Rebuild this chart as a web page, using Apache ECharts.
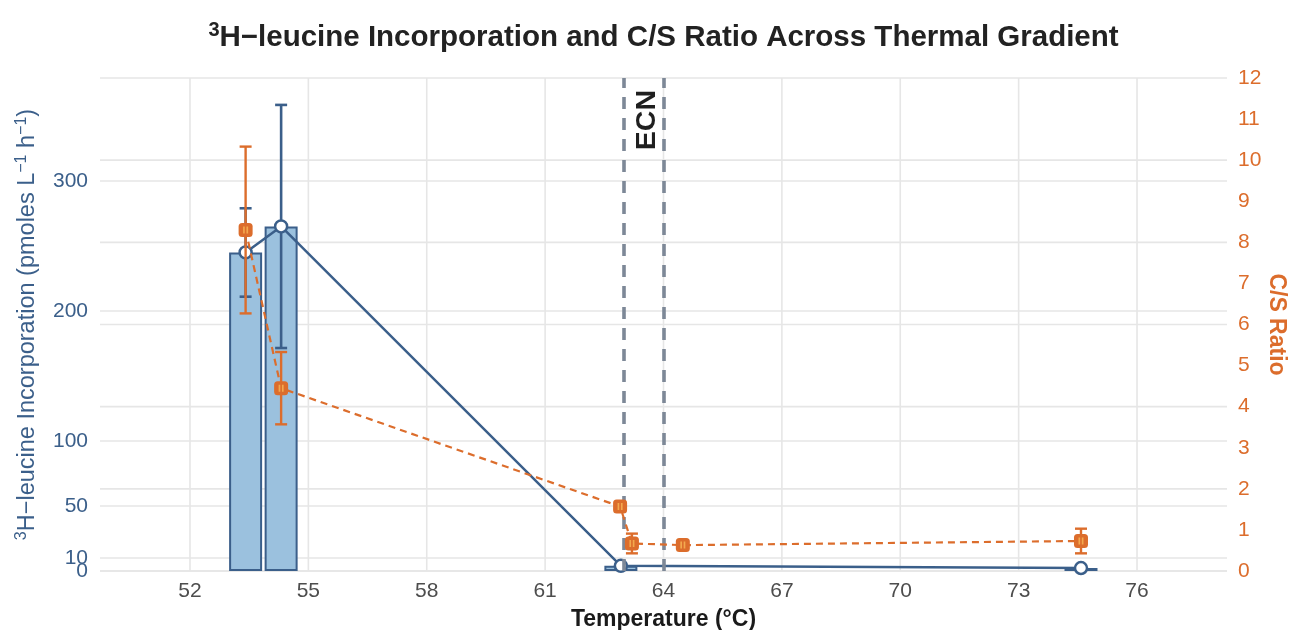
<!DOCTYPE html>
<html>
<head>
<meta charset="utf-8">
<script src="https://cdn.jsdelivr.net/npm/echarts@6/dist/echarts.min.js"></script>
<style>html,body{margin:0;padding:0;background:#fff;overflow:hidden}#c{width:1293px;height:630px}</style>
</head>
<body>
<div id="c"></div>
<script>
// ---- data ----
const leuTemps = [53.41, 54.31, 62.92, 74.58];
const leucine = [245, 265, 4, 2.3];
const leucineSD = [34, 93.5, 0, 0];
const csTemps = [53.41, 54.31, 62.9, 63.2, 64.49, 74.58];
const csRatio = [8.3, 4.45, 1.57, 0.67, 0.63, 0.73];
const csSD = [2.03, 0.88, 0, 0.24, 0, 0.3];
const ecnBounds = [63, 64];
const xTicks = [52, 55, 58, 61, 64, 67, 70, 73, 76];
const leftTicks = [0, 10, 50, 100, 200, 300];
const rightGridTicks = [0, 2, 4, 6, 8, 10, 12];

const BLUE = '#3b5f8a', BAR = '#9bc1de', ORANGE = '#dc6d2c', GRIDC = '#e6e6e6';
const FONT = 'Liberation Sans, Arial, sans-serif';
const LEFT_MAX = 379.2;
const GRID = { left: 100, right: 66, top: 78, bottom: 59 };
const W = 1293;

const leuPairs = leuTemps.map((t, i) => [t, leucine[i]]);
const leuErr = leuTemps.map((t, i) => [t, leucine[i], leucineSD[i]]).filter(d => d[2] > 0);
const csPairs = csTemps.map((t, i) => [t, csRatio[i]]);
const csErr = csTemps.map((t, i) => [t, csRatio[i], csSD[i]]).filter(d => d[2] > 0);

function errRender(color, width) {
  return function (params, api) {
    const x = api.value(0), y = api.value(1), sd = api.value(2);
    const top = api.coord([x, y + sd]);
    const bot = api.coord([x, y - sd]);
    const hw = 6;
    const st = { stroke: color, lineWidth: width };
    return {
      type: 'group',
      children: [
        { type: 'line', shape: { x1: top[0], y1: top[1], x2: bot[0], y2: bot[1] }, style: st },
        { type: 'line', shape: { x1: top[0] - hw, y1: top[1], x2: top[0] + hw, y2: top[1] }, style: st },
        { type: 'line', shape: { x1: bot[0] - hw, y1: bot[1], x2: bot[0] + hw, y2: bot[1] }, style: st }
      ]
    };
  };
}
function hGrid(params, api) {
  const cs = params.coordSys;
  const y = api.coord([api.value(0), api.value(1)])[1];
  return { type: 'line', silent: true, shape: { x1: cs.x, y1: y, x2: cs.x + cs.width, y2: y }, style: { stroke: GRIDC, lineWidth: 1.6 } };
}
function vGrid(params, api) {
  const cs = params.coordSys;
  const x = api.coord([api.value(0), api.value(1)])[0];
  return { type: 'line', silent: true, shape: { x1: x, y1: cs.y, x2: x, y2: cs.y + cs.height }, style: { stroke: GRIDC, lineWidth: 1.6 } };
}

const leftLabelBase = { color: BLUE, fontSize: 21, margin: 12, fontFamily: FONT, hideOverlap: false };

const chart = echarts.init(document.getElementById('c'), null, { renderer: 'canvas' });
chart.setOption({
  animation: false,
  backgroundColor: '#fff',
  textStyle: { fontFamily: FONT },
  title: {
    text: '{sup|3}{t|H\u2212leucine Incorporation and C/S Ratio Across Thermal Gradient}',
    left: GRID.left + (W - GRID.left - GRID.right) / 2,
    textAlign: 'center',
    top: 20,
    padding: 0,
    textStyle: {
      rich: {
        t: { fontSize: 29.5, fontWeight: 'bold', color: '#222', fontFamily: FONT, lineHeight: 36 },
        sup: { fontSize: 20, fontWeight: 'bold', color: '#222', fontFamily: FONT, verticalAlign: 'top', lineHeight: 36 }
      }
    }
  },
  grid: Object.assign({ containLabel: false, outerBoundsMode: 'none' }, GRID),
  xAxis: {
    type: 'value', min: 49.72, max: 78.28,
    axisLine: { show: false }, axisTick: { show: false }, splitLine: { show: false },
    axisLabel: { customValues: xTicks, color: '#4d4d4d', fontSize: 21, margin: 10, fontFamily: FONT },
    name: 'Temperature (\u00B0C)', nameLocation: 'middle', nameGap: 37, nameMoveOverlap: false,
    nameTextStyle: { fontSize: 23, fontWeight: 'bold', color: '#1a1a1a', fontFamily: FONT }
  },
  yAxis: [
    {
      type: 'value', min: 0, max: LEFT_MAX, position: 'left',
      axisLine: { show: false }, axisTick: { show: false }, splitLine: { show: false },
      axisLabel: Object.assign({ customValues: leftTicks.slice(1) }, leftLabelBase),
      name: '{sup|3}{t|H\u2212leucine Incorporation (pmoles L}{sup|\u22121}{t| h}{sup|\u22121}{t|)}',
      nameLocation: 'middle', nameGap: 58, nameRotate: 90, nameMoveOverlap: false,
      nameTextStyle: {
        rich: {
          t: { fontSize: 23.5, color: BLUE, fontFamily: FONT, lineHeight: 28 },
          sup: { fontSize: 16, color: BLUE, fontFamily: FONT, verticalAlign: 'top', lineHeight: 28 }
        }
      }
    },
    {
      type: 'value', min: 0, max: 12, interval: 1, position: 'right',
      axisLine: { show: false }, axisTick: { show: false }, splitLine: { show: false },
      axisLabel: { color: ORANGE, fontSize: 21, margin: 11, fontFamily: FONT },
      name: 'C/S Ratio', nameLocation: 'middle', nameGap: 38, nameRotate: -90, nameMoveOverlap: false,
      nameTextStyle: { fontSize: 23, fontWeight: 'bold', color: ORANGE, fontFamily: FONT }
    },
    {
      type: 'value', min: 0, max: LEFT_MAX, position: 'left',
      axisLine: { show: false }, axisTick: { show: false }, splitLine: { show: false },
      axisLabel: Object.assign({ customValues: leftTicks.slice(0, 1) }, leftLabelBase)
    }
  ],
  series: [
    { name: 'gridX', type: 'custom', data: xTicks.map(v => [v, 0]), z: 0, silent: true, renderItem: vGrid },
    { name: 'gridL', type: 'custom', yAxisIndex: 0, data: leftTicks.map(v => [xTicks[0], v]), z: 0, silent: true, renderItem: hGrid },
    { name: 'gridR', type: 'custom', yAxisIndex: 1, data: rightGridTicks.map(v => [xTicks[0], v]), z: 0, silent: true, renderItem: hGrid },
    {
      name: 'ECN', type: 'line', yAxisIndex: 1, data: [], z: 1, silent: true,
      markLine: {
        silent: true, symbol: 'none', label: { show: false }, animation: false,
        lineStyle: { color: '#7d8897', width: 3.6, type: [12, 9] },
        data: ecnBounds.map(v => [{ coord: [v, 0] }, { coord: [v, 12] }])
      },
      markPoint: {
        silent: true, symbol: 'rect', symbolSize: 1, itemStyle: { color: 'rgba(0,0,0,0)' },
        label: { show: true, formatter: 'ECN', rotate: 90, position: 'inside', offset: [-1, 3], fontSize: 28.5, fontWeight: 'bold', color: '#1f1f1f', fontFamily: FONT },
        data: [{ coord: [(ecnBounds[0] + ecnBounds[1]) / 2, 11] }]
      }
    },
    {
      name: 'Leucine bars', type: 'bar', yAxisIndex: 0, data: leuPairs, barWidth: 33, z: 2,
      itemStyle: { color: BAR, borderColor: BLUE, borderWidth: 2 }
    },
    {
      name: 'Leucine err', type: 'custom', yAxisIndex: 0, data: leuErr, z: 3,
      renderItem: errRender(BLUE, 2.6)
    },
    {
      name: 'Leucine line', type: 'line', yAxisIndex: 0, data: leuPairs, z: 4,
      lineStyle: { color: BLUE, width: 2.5 }, symbol: 'circle', symbolSize: 12, showSymbol: true,
      itemStyle: { color: '#fff', borderColor: BLUE, borderWidth: 2.5 }
    },
    {
      name: 'CS line', type: 'line', yAxisIndex: 1, data: csPairs, z: 5,
      lineStyle: { color: ORANGE, width: 2.2, type: [7, 5] }, symbol: 'none'
    },
    {
      name: 'CS err', type: 'custom', yAxisIndex: 1, data: csErr, z: 6,
      renderItem: errRender(ORANGE, 2.4)
    },
    {
      name: 'CS points', type: 'scatter', yAxisIndex: 1, data: csPairs, z: 7,
      symbol: 'roundRect', symbolSize: 14, itemStyle: { color: ORANGE, opacity: 1 }
    },
    {
      name: 'CS marks', type: 'scatter', yAxisIndex: 1, data: csPairs, z: 8, silent: true,
      symbol: 'path://M0,0h2v7h-2z M4,0h2v7h-2z', symbolSize: [5, 7], itemStyle: { color: '#f3a94e', opacity: 1 }
    }
  ]
});
</script>
</body>
</html>
